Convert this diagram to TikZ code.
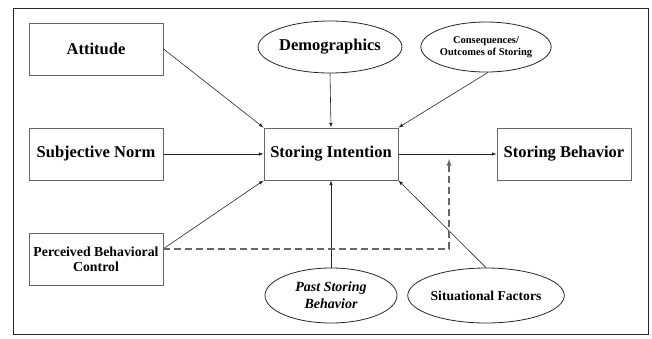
\documentclass[tikz,border=0pt]{standalone}
\usepackage{fontspec}
\setmainfont{Liberation Serif}
\usetikzlibrary{shapes.geometric}

\tikzset{
  box/.style={draw=black!60, line width=1pt, minimum width=134pt, minimum height=52pt,
    inner sep=2pt, align=center, font=\bfseries\fontsize{16.5}{18}\selectfont},
  oval/.style={ellipse, draw=black!85, line width=0.8pt, minimum width=130pt, minimum height=52pt,
    inner sep=0pt, align=center, font=\bfseries\fontsize{16.5}{18}\selectfont},
  link/.style={->, black!85, line width=0.6pt}
}

\begin{document}
\begin{tikzpicture}[x=1pt, y=-1pt, >=latex]
  \useasboundingbox (0,0) rectangle (652,338);
  % Outer frame
  \draw[black!85, line width=1pt] (13,8) rectangle (648,334);

  % Boxes on the left
  \node[box] (att) at (96,49) {Attitude};
  \node[box] (sn) at (96,154) {Subjective Norm};
  \node[box, font=\bfseries\fontsize{13.8}{15.5}\selectfont] (pbc) at (96,259.5) {Perceived Behavioral\\Control};

  % Middle and right boxes
  \node[box] (si) at (331,154) {Storing Intention};
  \node[box] (sb) at (564,154) {Storing Behavior};

  % Ovals
  \node[oval] (demo) at (330,47) {Demographics};
  \node[oval, minimum width=127pt, minimum height=50pt, font=\bfseries\fontsize{10.5}{12}\selectfont] (cons) at (486,47) {Consequences/\\Outcomes of Storing};
  \node[oval, minimum width=132pt, minimum height=55pt, font=\bfseries\itshape\fontsize{14}{17}\selectfont] (past) at (331,295.5) {Past Storing\\Behavior};
  \node[oval, minimum width=127pt, minimum height=55pt, font=\bfseries\fontsize{13.6}{15}\selectfont] (sit) at (486,295.5) {Situational Factors};

  % Arrows into the intention
  \coordinate (pbcout) at (163,249);
  \draw[link] (att.east) -- (si.north west);
  \draw[link] (demo.south) -- (si.north);
  \draw[link] (cons.south) ++(2,0) -- (si.north east);
  \draw[link] (sn.east) -- (si.west);
  \draw[link] (pbcout) -- (si.south west);
  \draw[link] (past.north) -- (si.south);
  \draw[link] (sit.north) -- (si.south east);
  \draw[link] (si.east) -- (sb.west);

  % Dashed moderation line
  \coordinate (mod) at (449,159);
  \draw[->, dash pattern=on 7pt off 4pt, black!60, line width=1.3pt] (pbcout) -| (mod);
\end{tikzpicture}
\end{document}
